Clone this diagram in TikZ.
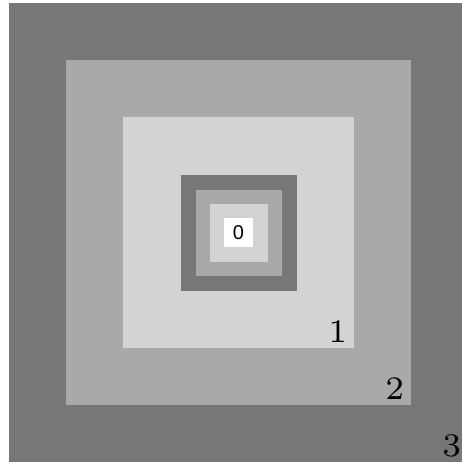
\documentclass[tikz,border=0pt]{standalone}
\usepackage{fontspec}
\newfontfamily\zerofont{Liberation Sans}
\usepackage{tikz}
\usetikzlibrary{positioning}
\definecolor{ringdark}{HTML}{777777}
\definecolor{ringmid}{HTML}{A9A9A9}
\definecolor{ringlight}{HTML}{D3D3D3}

\begin{document}
\begin{tikzpicture}[x=1pt,y=-1pt]
  \tikzstyle{ring}=[draw=none, inner sep=0pt, outer sep=0pt]
  \tikzstyle{levellabel}=[anchor=base east, inner sep=0pt, font=\fontsize{7}{7}\selectfont, scale=4.7, transform shape]

  \useasboundingbox (0,0) rectangle (462,464);
  \coordinate (c) at (238.5,232.5);

  % the three big rings
  \node[ring, fill=ringdark, minimum size=459pt] (sq3) at (c) {};
  \node[ring, fill=ringmid, minimum size=345pt] (sq2) at (c) {};
  \node[ring, fill=ringlight, minimum size=231pt] (sq1) at (c) {};

  % the small copy in the middle
  \node[ring, fill=ringdark, minimum size=116pt] (in3) at (c) {};
  \node[ring, fill=ringmid, minimum size=86pt] (in2) at (c) {};
  \node[ring, fill=ringlight, minimum size=58pt] (in1) at (c) {};
  \node[ring, fill=white, minimum size=29pt, font=\zerofont\fontsize{20}{20}\selectfont] (in0) at (c) {0};

  \node[levellabel] (lab1) at ([xshift=-6pt,yshift=6pt]sq1.south east) {1};
  \node[levellabel] (lab2) at ([xshift=-6pt,yshift=6pt]sq2.south east) {2};
  \node[levellabel] (lab3) at ([xshift=-6pt,yshift=6pt]sq3.south east) {3};
\end{tikzpicture}
\end{document}
